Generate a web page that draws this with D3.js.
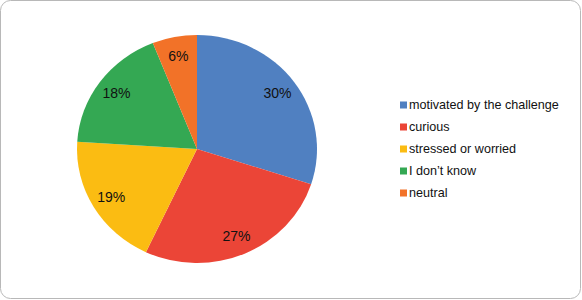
<!DOCTYPE html>
<html>
<head>
<meta charset="utf-8">
<script src="https://cdn.jsdelivr.net/npm/d3@7"></script>
<style>
  body { margin: 0; background: #fff; }
  svg text { font-family: "Liberation Sans", Arial, sans-serif; }
</style>
</head>
<body>
<svg id="chart" width="582" height="300"></svg>
<script>
// data
var categories = ["motivated by the challenge", "curious", "stressed or worried", "I don\u2019t know", "neutral"];
var values = [30, 27, 19, 18, 6];
var colors = ["#5080c1", "#eb4537", "#fbbc12", "#34a853", "#f27228"];

var width = 582, height = 300;
var cx = 197, cy = 149;
var rx = 120, ry = 114; // the pie is drawn slightly wider than tall

var svg = d3.select("#chart");

// frame with rounded corners
svg.append("rect")
   .attr("x", 0.5).attr("y", 0.5)
   .attr("width", width - 2).attr("height", height - 2)
   .attr("rx", 10).attr("ry", 10)
   .attr("fill", "#fff")
   .attr("stroke", "#b8b8b8")
   .attr("stroke-width", 1);

var data = categories.map(function(c, i) {
  return {name: c, value: values[i], color: colors[i]};
});

var pie = d3.pie()
            .sort(null)
            .value(function(d) { return d.value; });

var arc = d3.arc().innerRadius(0).outerRadius(1);
var labelArc = d3.arc().innerRadius(0.83).outerRadius(0.83);

var arcs = pie(data);

// slices, drawn on a unit circle then stretched
var g = svg.append("g")
           .attr("transform", "translate(" + cx + "," + cy + ") scale(" + rx + "," + ry + ")");

g.selectAll("path")
 .data(arcs)
 .enter().append("path")
 .attr("d", arc)
 .attr("fill", function(d) { return d.data.color; });

// percentage labels
svg.selectAll(".pct")
   .data(arcs)
   .enter().append("text")
   .attr("class", "pct")
   .attr("x", function(d) { return cx + labelArc.centroid(d)[0] * rx; })
   .attr("y", function(d) { return cy + labelArc.centroid(d)[1] * ry; })
   .attr("text-anchor", "middle")
   .attr("dy", "0.35em")
   .attr("font-size", 14)
   .attr("fill", "#111")
   .text(function(d) { return d.data.value + "%"; });

// legend
var legend = svg.append("g").attr("transform", "translate(400,105)");

var items = legend.selectAll("g")
                  .data(data)
                  .enter().append("g")
                  .attr("transform", function(d, i) { return "translate(0," + (i * 22) + ")"; });

items.append("rect")
     .attr("x", 0).attr("y", -3.5)
     .attr("width", 7).attr("height", 7)
     .attr("fill", function(d) { return d.color; });

items.append("text")
     .attr("x", 9)
     .attr("dy", "0.35em")
     .attr("font-size", 12.6)
     .attr("fill", "#111")
     .text(function(d) { return d.name; });
</script>
</body>
</html>
